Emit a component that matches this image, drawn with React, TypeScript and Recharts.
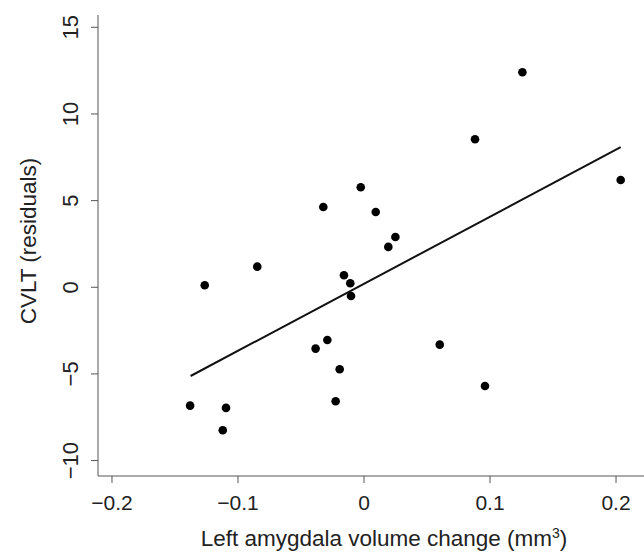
import React from 'react';
import {
  ScatterChart,
  Scatter,
  XAxis,
  YAxis,
  ReferenceLine
} from 'recharts';

// amygdala volume change (mm3) vs CVLT residuals
const volumeChange = [
  -0.138, -0.1264, -0.1121, -0.1095, -0.0847,
  -0.0384, -0.0323, -0.0291, -0.0225, -0.0193,
  -0.0159, -0.0109, -0.0103, -0.0026, 0.0093,
  0.0193, 0.0249, 0.0601, 0.0881, 0.096,
  0.1257, 0.2037
];
const cvltResiduals = [
  -6.83, 0.12, -8.25, -6.96, 1.19,
  -3.54, 4.63, -3.04, -6.58, -4.73,
  0.69, 0.23, -0.5, 5.77, 4.34,
  2.33, 2.9, -3.31, 8.54, -5.7,
  12.41, 6.19
];

// fitted regression line end points
const fitX = [-0.1376, 0.2037];
const fitY = [-5.12, 8.08];

const xTicks = [-0.2, -0.1, 0, 0.1, 0.2];
const yTicks = [-10, -5, 0, 5, 10, 15];

const points = volumeChange.map((x, i) => ({ x, y: cvltResiduals[i] }));

const FONT = '"Liberation Sans", Arial, sans-serif';
const AXIS = '#555';
const TEXT = '#222';

const fmt = (v: number) => (v < 0 ? '\u2212' : '') + String(Math.abs(v));

const XTick = (props: any) => {
  const { x, y, payload } = props;
  return (
    <text x={x} y={y + 27} textAnchor="middle" fontSize={21} fontFamily={FONT} fill={TEXT}>
      {fmt(payload.value)}
    </text>
  );
};

const YTick = (props: any) => {
  const { x, y, payload } = props;
  const bx = x - 13;
  return (
    <text
      x={bx}
      y={y}
      transform={`rotate(-90, ${bx}, ${y})`}
      textAnchor="middle"
      fontSize={22}
      fontFamily={FONT}
      fill={TEXT}
    >
      {fmt(payload.value)}
    </text>
  );
};

const Dot = (props: any) => {
  const { cx, cy } = props;
  return <circle cx={cx} cy={cy} r={4.3} fill="#000" />;
};

const App: React.FC = () => {
  return (
    <div style={{ position: 'absolute', left: 0, top: 0, width: 644, height: 554, background: '#fff' }}>
      <ScatterChart width={644} height={554} margin={{ top: 15, right: 0, bottom: 0, left: 0 }}>
        <XAxis
          type="number"
          dataKey="x"
          domain={[-0.2111, 0.2222]}
          ticks={xTicks}
          allowDataOverflow
          height={78}
          tickSize={7}
          tickMargin={0}
          stroke={AXIS}
          tick={<XTick />}
          label={{
            content: () => (
              <text x={384} y={546} textAnchor="middle" fontSize={22.5} fontFamily={FONT} fill={TEXT}>
                Left amygdala volume change (mm<tspan dy={-8} fontSize={14}>3</tspan>
                <tspan dy={8}>)</tspan>
              </text>
            )
          }}
        />
        <YAxis
          type="number"
          dataKey="y"
          domain={[-10.89, 15.71]}
          ticks={yTicks}
          allowDataOverflow
          width={98}
          tickSize={7}
          tickMargin={0}
          stroke={AXIS}
          tick={<YTick />}
          label={{
            content: () => (
              <text
                x={36}
                y={241}
                transform="rotate(-90, 36, 241)"
                textAnchor="middle"
                fontSize={22.5}
                fontFamily={FONT}
                fill={TEXT}
              >
                CVLT (residuals)
              </text>
            )
          }}
        />
        <ReferenceLine
          segment={[
            { x: fitX[0], y: fitY[0] },
            { x: fitX[1], y: fitY[1] }
          ]}
          stroke="#111"
          strokeWidth={2}
        />
        <Scatter data={points} fill="#000" shape={<Dot />} isAnimationActive={false} />
      </ScatterChart>
    </div>
  );
};

export default App;
